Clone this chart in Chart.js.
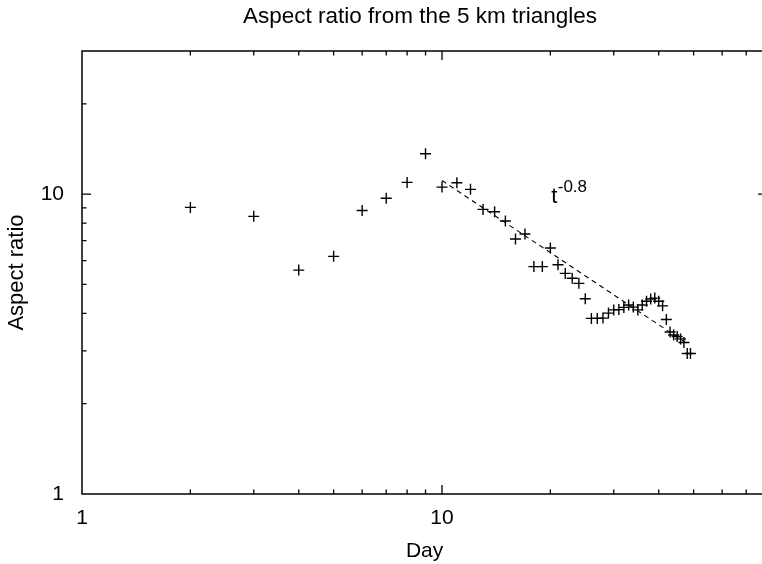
<!DOCTYPE html>
<html><head><meta charset="utf-8">
<script src="https://cdn.jsdelivr.net/npm/chart.js@4/dist/chart.umd.min.js"></script>
<style>html,body{margin:0;padding:0;background:#fff;overflow:hidden}#wrap{width:774px;height:564px}</style>
</head><body><div id="wrap"><canvas id="c" width="774" height="564"></canvas></div>
<script>
// ---- data ----
const days = [2,3,4,5,6,7,8,9,10,11,12,13,14,15,16,17,18,19,20,21,22,23,24,25,26,27,28,29,30,31,32,33,34,35,36,37,38,39,40,41,42,43,44,45,46,47,48,49];
const aspect = [9.03,8.43,5.58,6.20,8.82,9.69,10.94,13.63,
  10.55,10.91,10.37,8.89,8.73,8.13,7.08,7.36,5.73,5.73,
  6.61,5.81,5.44,5.24,5.04,4.48,
  3.85,3.85,3.86,4.01,4.11,4.12,4.19,4.27,
  4.20,4.11,4.27,4.39,4.47,4.50,4.39,4.24,
  3.82,3.47,3.39,3.35,3.29,3.20,2.94,2.94];
const fitDays = [10, 48];
const fitValues = [11.1, 3.17];
const xTickLabels = [1, 10];
const yTickLabels = [1, 10];
const xMinorTicks = [2,3,4,5,6,7,8,9,20,30,40,50,60,70];
const xMajorTicks = [10];
const yMinorTicks = [2,3,4,5,6,7,8,9,20];
const yMajorTicks = [10];
const titleText = 'Aspect ratio from the 5 km triangles';
const fitLabel = {base: 't', exp: '-0.8', day: 20.1, value: 9.35};

const FONT = '"Liberation Sans", Arial, Helvetica, sans-serif';

const framePlugin = {
  id: 'frame',
  afterDraw(chart) {
    const {ctx, chartArea: a, scales: {x, y}} = chart;
    ctx.save();
    ctx.strokeStyle = '#000';
    ctx.lineWidth = 1.5;
    ctx.strokeRect(a.left, a.top, a.right - a.left, a.bottom - a.top);
    ctx.lineWidth = 1.3;
    ctx.beginPath();
    const xt = (v, len) => {
      const px = x.getPixelForValue(v);
      ctx.moveTo(px, a.bottom); ctx.lineTo(px, a.bottom - len);
      ctx.moveTo(px, a.top); ctx.lineTo(px, a.top + len);
    };
    const yt = (v, len) => {
      const py = y.getPixelForValue(v);
      ctx.moveTo(a.left, py); ctx.lineTo(a.left + len, py);
      ctx.moveTo(a.right, py); ctx.lineTo(a.right - len, py);
    };
    xMinorTicks.forEach(v => xt(v, 4.5));
    xMajorTicks.forEach(v => xt(v, 9));
    yMinorTicks.forEach(v => yt(v, 4.5));
    yMajorTicks.forEach(v => yt(v, 9));
    ctx.stroke();
    // title
    ctx.fillStyle = '#000';
    ctx.font = '22.5px ' + FONT;
    ctx.textAlign = 'center';
    ctx.textBaseline = 'middle';
    ctx.fillText(titleText, 420, 17);
    // fit label
    const lx = x.getPixelForValue(fitLabel.day);
    const ly = y.getPixelForValue(fitLabel.value);
    ctx.textAlign = 'left';
    ctx.textBaseline = 'alphabetic';
    ctx.font = '22px ' + FONT;
    ctx.fillText(fitLabel.base, lx, ly);
    const w = ctx.measureText(fitLabel.base).width;
    ctx.font = '17px ' + FONT;
    ctx.fillText(fitLabel.exp, lx + w + 0.5, ly - 11);
    ctx.restore();
  }
};

new Chart(document.getElementById('c'), {
  data: {
    datasets: [
      {
        type: 'scatter',
        data: days.map((d, i) => ({x: d, y: aspect[i]})),
        pointStyle: 'cross',
        pointRadius: 5.5,
        pointHoverRadius: 5.5,
        borderColor: '#000',
        backgroundColor: '#000',
        borderWidth: 1.4
      },
      {
        type: 'line',
        data: fitDays.map((d, i) => ({x: d, y: fitValues[i]})),
        borderColor: '#000',
        borderWidth: 1.1,
        borderDash: [5, 4],
        pointRadius: 0,
        fill: false
      }
    ]
  },
  options: {
    responsive: false,
    animation: false,
    devicePixelRatio: 1,
    layout: {padding: {top: 51, right: 3, left: 0, bottom: 0}},
    plugins: {legend: {display: false}, tooltip: {enabled: false}, title: {display: false}},
    scales: {
      x: {
        type: 'logarithmic', position: 'bottom', min: 1, max: 80,
        afterBuildTicks: s => { s.ticks = xTickLabels.map(v => ({value: v})); },
        afterFit: s => { s.height = 70; },
        grid: {display: false, drawTicks: false},
        border: {display: false},
        ticks: {autoSkip: false, maxRotation: 0, padding: 12, color: '#000',
                font: {family: FONT, size: 21}, callback: v => String(v)},
        title: {display: true, text: 'Day', color: '#000', font: {family: FONT, size: 21},
                padding: {top: 0, bottom: 0}}
      },
      y: {
        type: 'logarithmic', position: 'left', min: 1, max: 30,
        afterBuildTicks: s => { s.ticks = yTickLabels.map(v => ({value: v})); },
        afterFit: s => { s.width = 82; },
        grid: {display: false, drawTicks: false},
        border: {display: false},
        ticks: {autoSkip: false, padding: 18, color: '#000',
                font: {family: FONT, size: 21}, callback: v => String(v)},
        title: {display: true, text: 'Aspect ratio', color: '#000', font: {family: FONT, size: 22},
                padding: {top: 4, bottom: 0}}
      }
    }
  },
  plugins: [framePlugin]
});
</script>
</body></html>
